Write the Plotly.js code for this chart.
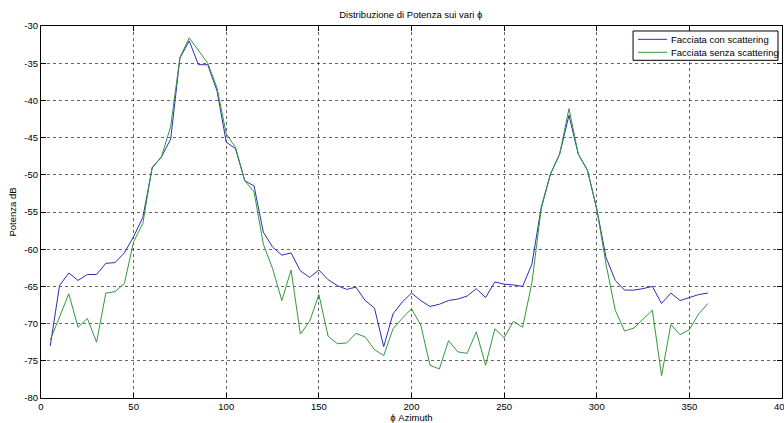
<!DOCTYPE html>
<html>
<head>
<meta charset="utf-8">
<script src="https://cdn.plot.ly/plotly-3.0.1.min.js"></script>
<style>html,body{margin:0;padding:0;background:#fff;}#chart{width:784px;height:423px;}</style>
</head>
<body>
<div id="chart"></div>
<script>
const azimuth = [5,10,15,20,25,30,35,40,45,50,55,60,65,70,75,80,85,90,95,100,
  105,110,115,120,125,130,135,140,145,150,155,160,165,170,175,180,185,190,195,200,
  205,210,215,220,225,230,235,240,245,250,255,260,265,270,275,280,285,290,295,300,
  305,310,315,320,325,330,335,340,345,350,355,360];

const conScattering = [-73.0,-64.9,-63.2,-64.2,-63.4,-63.4,-61.9,-61.8,-60.5,-58.3,
  -55.7,-49.1,-47.6,-45.2,-34.3,-32.0,-35.2,-35.2,-38.7,-45.6,
  -46.5,-50.8,-51.5,-57.7,-59.7,-60.8,-60.5,-62.9,-63.8,-62.8,
  -64.1,-64.9,-65.4,-65.1,-66.9,-67.9,-73.1,-68.7,-67.1,-65.9,
  -66.9,-67.7,-67.4,-66.9,-66.7,-66.3,-65.3,-66.5,-64.4,-64.7,
  -64.8,-65.0,-62.0,-54.4,-49.9,-47.2,-42.0,-47.2,-49.4,-54.6,
  -61.1,-64.2,-65.5,-65.5,-65.3,-65.0,-67.3,-65.9,-66.9,-66.5,
  -66.1,-65.9];

const senzaScattering = [-72.2,-69.1,-66.0,-70.5,-69.3,-72.5,-65.9,-65.7,-64.6,-59.0,
  -56.5,-49.0,-47.6,-43.5,-34.2,-31.6,-33.3,-35.0,-38.3,-44.5,
  -46.3,-50.8,-52.3,-59.3,-62.6,-66.9,-62.8,-71.4,-69.7,-66.1,
  -71.7,-72.7,-72.6,-71.3,-71.8,-73.5,-74.3,-70.7,-69.3,-68.0,
  -70.2,-75.6,-76.1,-72.3,-73.8,-74.0,-71.1,-75.6,-70.7,-71.9,
  -69.7,-70.5,-64.5,-54.6,-49.9,-47.2,-41.1,-47.2,-49.4,-54.6,
  -62.0,-68.2,-71.0,-70.6,-69.4,-68.2,-77.0,-70.1,-71.5,-70.8,
  -68.7,-67.3];

const seriesNames = ['Facciata con scattering', 'Facciata senza scattering'];

const xTickVals = [0,50,100,150,200,250,300,350,400];
const xTickText = ['0','50','100','150','200','250','300','350','400'];
const yTickVals = [-80,-75,-70,-65,-60,-55,-50,-45,-40,-35,-30];
const yTickText = ['-80','-75','-70','-65','-60','-55','-50','-45','-40','-35','-30'];

const font = 'Liberation Sans, Arial, Helvetica, sans-serif';
const colors = ['#2d2db4', '#33993a'];

const traces = [
  {x: azimuth, y: conScattering, type: 'scatter', mode: 'lines',
   name: seriesNames[0], line: {color: colors[0], width: 1}},
  {x: azimuth, y: senzaScattering, type: 'scatter', mode: 'lines',
   name: seriesNames[1], line: {color: colors[1], width: 1}}
];

const axisCommon = {
  showline: true, linecolor: '#000', linewidth: 1, mirror: 'ticks',
  ticks: 'inside', ticklen: 5, tickcolor: '#000', tickwidth: 1,
  showgrid: true, gridcolor: '#000', griddash: 'dot', gridwidth: 0.6,
  zeroline: false, tickfont: {family: font, size: 9.5, color: '#000'}
};

// legend box drawn in paper coordinates (MATLAB-style compact legend)
const legX0 = 0.799, legX1 = 0.9946, legY0 = 0.9078, legY1 = 0.9866;
const legLineX0 = 0.8057, legLineX1 = 0.8448, legTextX = 0.8475;
const legRowY = [0.9642, 0.9293];

const shapes = [
  {type: 'rect', xref: 'paper', yref: 'paper', x0: legX0, x1: legX1, y0: legY0, y1: legY1,
   line: {color: '#000', width: 1}, fillcolor: '#fff', layer: 'above'}
];
const annotations = [];
seriesNames.forEach((nm, i) => {
  shapes.push({type: 'line', xref: 'paper', yref: 'paper', x0: legLineX0, x1: legLineX1,
    y0: legRowY[i], y1: legRowY[i], line: {color: colors[i], width: 1}, layer: 'above'});
  annotations.push({xref: 'paper', yref: 'paper', x: legTextX, y: legRowY[i], xanchor: 'left', yanchor: 'middle',
    text: nm, showarrow: false, font: {family: font, size: 9.5, color: '#000'}});
});

const layout = {
  width: 784, height: 423, autosize: false,
  margin: {l: 41, r: 2, t: 26, b: 25},
  paper_bgcolor: '#fff', plot_bgcolor: '#fff',
  font: {family: font, size: 9.5, color: '#000'},
  title: {text: 'Distribuzione di Potenza sui vari ϕ', font: {family: font, size: 9.5, color: '#000'},
          x: 0.524, xanchor: 'center', y: 0.9645, yanchor: 'middle', yref: 'container'},
  xaxis: Object.assign({}, axisCommon, {range: [0, 400], tickmode: 'array', tickvals: xTickVals, ticktext: xTickText,
    ticklabeloverflow: 'allow',
    title: {text: 'ϕ Azimuth', font: {family: font, size: 9.5, color: '#000'}, standoff: 2}}),
  yaxis: Object.assign({}, axisCommon, {range: [-80, -30], tickmode: 'array', tickvals: yTickVals, ticktext: yTickText,
    title: {text: 'Potenza dB', font: {family: font, size: 9.5, color: '#000'}, standoff: 6}}),
  showlegend: false,
  shapes: shapes,
  annotations: annotations
};

Plotly.newPlot('chart', traces, layout, {displayModeBar: false, staticPlot: true});
</script>
</body>
</html>
